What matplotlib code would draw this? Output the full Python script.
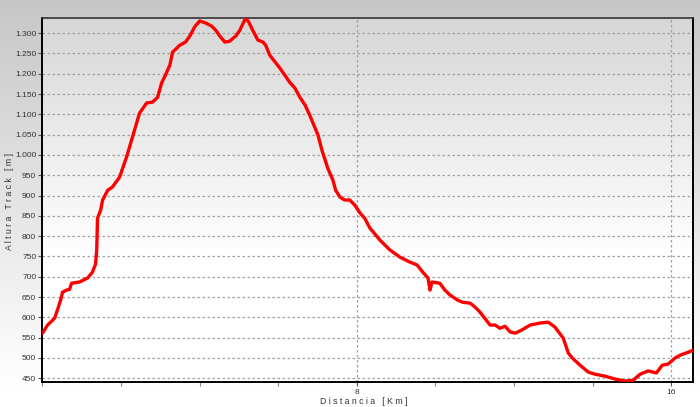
import numpy as np
import matplotlib
matplotlib.use("Agg")
import matplotlib.pyplot as plt
from matplotlib.ticker import FixedLocator, FuncFormatter, MultipleLocator

distance_km = [0.00, 0.13, 0.31, 0.38, 0.46, 0.51, 0.61, 0.69, 0.74, 0.94, 1.15, 1.27, 1.35, 1.38,
               1.40, 1.48, 1.53, 1.66, 1.78, 1.96, 2.14, 2.29, 2.47, 2.65, 2.80, 2.93, 3.03, 3.13,
               3.24, 3.31, 3.49, 3.64, 3.75, 3.87, 4.00, 4.15, 4.31, 4.41, 4.51, 4.64, 4.76, 4.92,
               5.02, 5.12, 5.17, 5.25, 5.35, 5.48, 5.61, 5.68, 5.78, 6.04, 6.29, 6.42, 6.55, 6.68,
               6.80, 7.01, 7.11, 7.26, 7.39, 7.46, 7.57, 7.69, 7.82, 7.95, 8.08, 8.20, 8.33, 8.59,
               8.84, 9.10, 9.35, 9.53, 9.68, 9.81, 9.86, 9.91, 10.11, 10.24, 10.37, 10.57, 10.70,
               10.88, 11.01, 11.13, 11.39, 11.52, 11.64, 11.77, 11.90, 12.03, 12.20, 12.41, 12.66,
               12.87, 13.04, 13.25, 13.38, 13.48, 13.68, 13.89, 14.06, 14.32, 14.57, 14.83, 15.03,
               15.21, 15.41, 15.62, 15.77, 15.92, 16.10, 16.23, 16.43, 16.56]
altitude_m = [561, 581, 598, 618, 642, 662, 667, 669, 684, 687, 697, 711, 731, 766,
              844, 864, 889, 913, 921, 945, 995, 1044, 1103, 1128, 1130, 1142, 1177, 1197,
              1221, 1253, 1270, 1278, 1293, 1315, 1330, 1325, 1317, 1307, 1293, 1278, 1280, 1293,
              1307, 1327, 1337, 1327, 1307, 1283, 1278, 1270, 1246, 1214, 1179, 1165, 1142, 1123,
              1098, 1049, 1012, 967, 938, 913, 896, 889, 889, 876, 857, 844, 820, 790,
              766, 748, 736, 729, 711, 697, 667, 687, 684, 667, 655, 642, 637,
              635, 625, 613, 581, 581, 573, 578, 564, 561, 569, 581, 586,
              588, 576, 549, 512, 500, 482, 465, 460, 455, 448, 443, 445,
              460, 468, 463, 482, 485, 500, 507, 514, 519]

y_ticks = list(range(450, 1301, 50))
x_major_ticks = [8, 16]

plt.rcParams["font.family"] = ["Liberation Sans", "DejaVu Sans"]

fig = plt.figure(figsize=(7.0, 4.07), dpi=100)

# figure background gradient
bg = fig.add_axes([0, 0, 1, 1], zorder=-10)
grad = np.linspace(0, 1, 256).reshape(-1, 1)
top_c, bot_c = 0.78, 1.0
col = top_c + (bot_c - top_c) * np.clip(grad / 0.95, 0, 1)
bg.imshow(np.dstack([col, col, col]), aspect="auto", extent=[0, 1, 0, 1], origin="upper")
bg.axis("off")

ax = fig.add_axes([0.0607, 0.0607, 0.9297, 0.8958])
ax.set_xlim(0, 16.56)
ax.set_ylim(440, 1338)

# axes background gradient
g2 = np.linspace(0, 1, 256).reshape(-1, 1)
c2 = 0.84 + 0.16 * np.clip(g2 / 0.65, 0, 1)
ax.imshow(np.dstack([c2, c2, c2]), aspect="auto", extent=[0, 16.56, 440, 1338],
          origin="upper", zorder=0)

for yv in y_ticks:
    ax.axhline(yv, color="#a0a0a0", linestyle=(0, (2, 2)), linewidth=0.9, zorder=1)
for xv in x_major_ticks:
    ax.axvline(xv, color="#a0a0a0", linestyle=(0, (2, 2)), linewidth=0.9, zorder=1)

ax.plot(distance_km, altitude_m, color="#ff0000", linewidth=2.4, zorder=3,
        solid_joinstyle="round", solid_capstyle="round")

ax.yaxis.set_major_locator(FixedLocator(y_ticks))
ax.yaxis.set_major_formatter(FuncFormatter(lambda v, p: f"{int(v):,}".replace(",", ".")))
ax.xaxis.set_major_locator(FixedLocator(x_major_ticks))
ax.xaxis.set_minor_locator(MultipleLocator(2))
ax.tick_params(axis="both", which="major", labelsize=6.0, labelcolor="#333333",
               color="#555555", length=3, width=0.8, pad=1.5)
ax.tick_params(axis="x", which="minor", length=3, width=0.8, color="#888888")

for s in ["left", "bottom", "right"]:
    ax.spines[s].set_color("black")
    ax.spines[s].set_linewidth(1.4)
ax.spines["top"].set_color("#333333")
ax.spines["top"].set_linewidth(1.2)

fig.text(10 / 700, 1 - 202 / 407, "A l t u r a   T r a c k   [ m ]", fontsize=6.3,
         color="#333333", rotation=90, ha="center", va="center")
fig.text(364 / 700, 1 - 402 / 407, "D i s t a n c i a   [ K m ]", fontsize=6.3,
         color="#333333", ha="center", va="center")

fig.savefig("out.png", dpi=100)
